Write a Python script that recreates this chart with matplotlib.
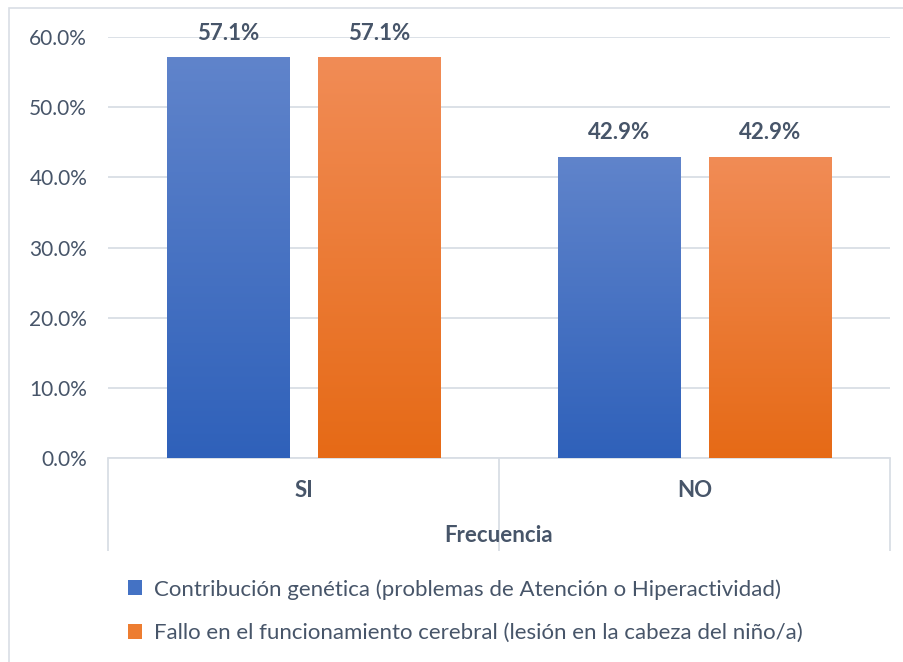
import matplotlib
matplotlib.use("Agg")
import matplotlib.pyplot as plt
import numpy as np
from matplotlib.patches import Rectangle, Patch
from matplotlib.colors import LinearSegmentedColormap

categories = ["SI", "NO"]
series_names = ["Contribución genética (problemas de Atención o Hiperactividad)",
                "Fallo en el funcionamiento cerebral (lesión en la cabeza del niño/a)"]
genetica = [57.1, 42.9]
cerebral = [57.1, 42.9]
yticks = [0, 10, 20, 30, 40, 50, 60]
xlabel = "Frecuencia"

FONT = ["Lato", "DejaVu Sans"]
TXT = "#475569"
GRID = "#D9DEE5"

plt.rcParams["font.family"] = FONT

W, H = 904, 662
fig = plt.figure(figsize=(W / 100, H / 100), dpi=100)
fig.patch.set_facecolor("white")

# figure border
fig.add_artist(Rectangle((9 / W, -0.05), 1.0, (H - 8) / H + 0.05, transform=fig.transFigure,
                         fill=False, edgecolor=GRID, linewidth=1.2))

ax = fig.add_axes([108 / W, (H - 458) / H, (890 - 108) / W, (458 - 37) / H])
ax.set_xlim(-0.5, 1.5)
ax.set_ylim(0, 60)

x = np.arange(len(categories))
bw = 0.313
off = 0.193

blue_cmap = LinearSegmentedColormap.from_list("b", ["#2F61BA", "#6084CB"])
orange_cmap = LinearSegmentedColormap.from_list("o", ["#E66A16", "#F18C56"])

grad = np.linspace(0, 1, 256).reshape(-1, 1)

def gradient_bars(xs, vals, cmap):
    bars = ax.bar(xs, vals, width=bw, color="none", edgecolor="none", zorder=3)
    for b in bars:
        x0, y0 = b.get_x(), b.get_y()
        w, h = b.get_width(), b.get_height()
        im = ax.imshow(grad, cmap=cmap, aspect="auto", origin="lower",
                       extent=[x0, x0 + w, y0, y0 + h], zorder=3)
        im.set_clip_path(b)
    return bars

b1 = gradient_bars(x - off, genetica, blue_cmap)
b2 = gradient_bars(x + off, cerebral, orange_cmap)
ax.set_xlim(-0.5, 1.5)
ax.set_ylim(0, 60)

for bars, vals in ((b1, genetica), (b2, cerebral)):
    for b, v in zip(bars, vals):
        ax.annotate(f"{v:.1f}%", (b.get_x() + b.get_width() / 2, v),
                    xytext=(0, 17.5), textcoords="offset points",
                    ha="center", va="center", fontsize=16, fontweight="bold",
                    color=TXT, zorder=5)

ax.set_yticks(yticks)
ax.set_yticklabels([f"{t:.1f}%" for t in yticks])
ax.yaxis.grid(True, color=GRID, linewidth=1.3, zorder=0)
ax.set_axisbelow(True)
ax.tick_params(axis="y", length=0, pad=15, labelsize=15, labelcolor=TXT)

ax.set_xticks(x)
ax.set_xticklabels(categories, fontweight="bold")
ax.tick_params(axis="x", which="major", length=0, pad=16, labelsize=16, labelcolor=TXT)
ax.set_xticks([-0.5, 0.5, 1.5], minor=True)
ax.tick_params(axis="x", which="minor", length=67, width=1.3, color=GRID, direction="out")

for s in ("top", "right", "left"):
    ax.spines[s].set_visible(False)
ax.spines["bottom"].set_color(GRID)
ax.spines["bottom"].set_linewidth(1.3)

fig.text((108 + 890) / 2 / W, 1 - 535 / H, xlabel, ha="center", va="center",
         fontsize=16, fontweight="bold", color=TXT)

handles = [Patch(facecolor="#4472C4", edgecolor="none"),
           Patch(facecolor="#ED7D31", edgecolor="none")]
leg = fig.legend(handles, series_names, loc="upper left",
                 bbox_to_anchor=(128 / W, 1 - 579 / H), frameon=False, borderpad=0,
                 borderaxespad=0,
                 fontsize=16, handlelength=0.65, handleheight=0.65,
                 handletextpad=0.5, labelspacing=1.05, labelcolor=TXT)

fig.savefig("out.png", dpi=100, facecolor="white")
